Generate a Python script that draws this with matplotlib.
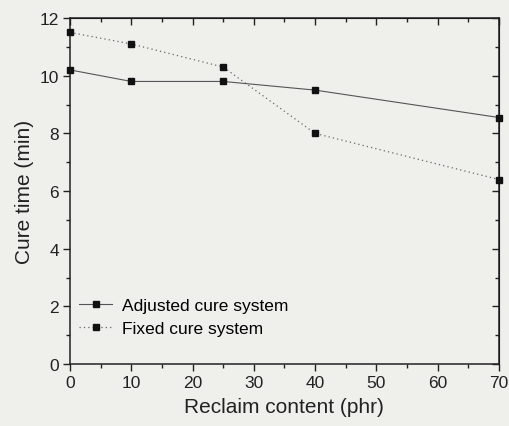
import matplotlib
matplotlib.use('Agg')
import matplotlib.pyplot as plt
from matplotlib.ticker import MultipleLocator

plt.rcParams['font.family'] = ['Liberation Sans', 'DejaVu Sans']

reclaim = [0, 10, 25, 40, 70]
adjusted = [10.2, 9.8, 9.8, 9.5, 8.55]
fixed = [11.5, 11.1, 10.3, 8.0, 6.4]

paper = '#efefec'

fig = plt.figure(figsize=(5.09, 4.27), dpi=100, facecolor=paper)
ax = fig.add_axes([0.1375, 0.145, 0.8425, 0.8105], facecolor=paper)

ax.plot(reclaim, adjusted, color='#555555', lw=0.8, ls='-',
        marker='s', ms=5, mfc='#111111', mec='#111111',
        label='Adjusted cure system', clip_on=False, zorder=3)
ax.plot(reclaim, fixed, color='#666666', lw=0.9, ls=(0, (1, 2.5)),
        marker='s', ms=5, mfc='#111111', mec='#111111',
        label='Fixed cure system', clip_on=False, zorder=3)

ax.set_xlim(0, 70)
ax.set_ylim(0, 12)
ax.xaxis.set_major_locator(MultipleLocator(10))
ax.xaxis.set_minor_locator(MultipleLocator(5))
ax.yaxis.set_major_locator(MultipleLocator(2))
ax.yaxis.set_minor_locator(MultipleLocator(1))

for s in ax.spines.values():
    s.set_linewidth(1.1)
    s.set_color('#222222')

ax.tick_params(which='both', direction='out', top=False, right=False,
               labelsize=12.5, colors='#222222', width=1, pad=3)
ax.tick_params(which='major', length=5)
ax.tick_params(which='minor', length=3)

# inward ticks on the mirrored top and right sides
ax_top = ax.secondary_xaxis('top')
ax_top.xaxis.set_major_locator(MultipleLocator(10))
ax_top.xaxis.set_minor_locator(MultipleLocator(5))
ax_top.tick_params(which='both', direction='in', labeltop=False, width=1, colors='#222222')
ax_top.tick_params(which='major', length=5)
ax_top.tick_params(which='minor', length=3)
ax_right = ax.secondary_yaxis('right')
ax_right.yaxis.set_major_locator(MultipleLocator(2))
ax_right.yaxis.set_minor_locator(MultipleLocator(1))
ax_right.tick_params(which='both', direction='in', labelright=False, width=1, colors='#222222')
ax_right.tick_params(which='major', length=5)
ax_right.tick_params(which='minor', length=3)

ax.set_xlabel('Reclaim content (phr)', fontsize=15, color='#222222', labelpad=5)
ax.set_ylabel('Cure time (min)', fontsize=15, color='#222222', labelpad=4)

ax.legend(loc='lower left', bbox_to_anchor=(0.005, 0.06), frameon=False,
          fontsize=12.5, handlelength=1.9, handletextpad=0.6,
          labelspacing=0.45, borderaxespad=0)

fig.savefig('out.png', dpi=100, facecolor=paper)
